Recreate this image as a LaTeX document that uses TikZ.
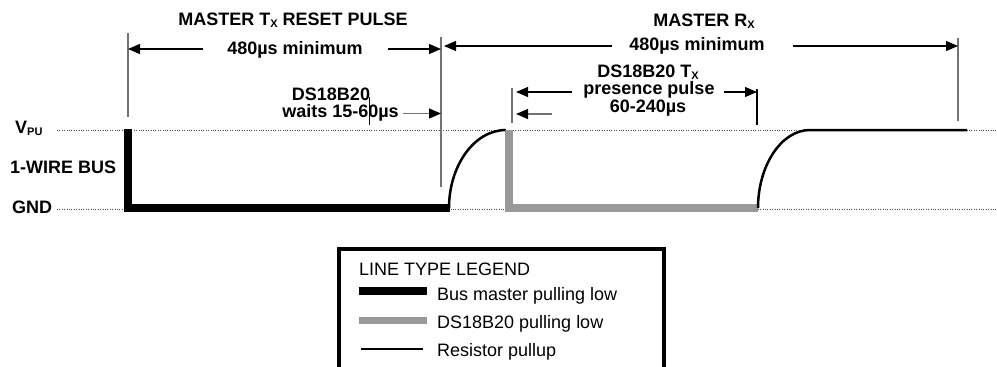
\documentclass[tikz,border=0pt]{standalone}
\usepackage{fontspec}
\setmainfont{Liberation Sans}
\usetikzlibrary{arrows.meta}
\definecolor{slavegray}{RGB}{153,153,153}
\definecolor{markgray}{RGB}{115,115,115}
\definecolor{levelgray}{RGB}{80,80,80}
\newcommand{\lowtext}[1]{\raisebox{-2pt}{\fontsize{11}{12}\selectfont #1}}
\tikzset{
  masterlow/.style={black,line width=8pt},
  slavelow/.style={slavegray,line width=8pt},
  pullup/.style={black,line width=2.5pt},
  levelline/.style={levelgray,line width=0.8pt,dash pattern=on 0.9pt off 1.5pt},
  markline/.style={markgray,line width=1.4pt},
  dimarrow/.style={-{Triangle[length=12pt,width=10pt,color=black]},line width=1.1pt},
  lbl/.style={inner sep=0pt,anchor=base,font=\bfseries\fontsize{18}{20}\selectfont},
  legtext/.style={inner sep=0pt,anchor=base west,font=\fontsize{18}{20}\selectfont},
}

\begin{document}
\begin{tikzpicture}[x=1pt,y=-1pt]
  \useasboundingbox (0,0) rectangle (997,367);
  % bus levels
  \node[lbl,anchor=base west] (vpu) at (15,133) {V\lowtext{PU}};
  \node[lbl,anchor=base west] (bus) at (10,173) {1-WIRE BUS};
  \node[lbl,anchor=base west] (gnd) at (12,213) {GND};
  \coordinate (vpuL) at (57,130);
  \coordinate (gndL) at (57,209);
  \draw[levelline] (vpuL) -- (vpuL -| 997,0);
  \draw[levelline] (gndL) -- (gndL -| 997,0);

  % waveform
  \draw[masterlow] (128,129) -- (128,208) -- (450,208);
  \draw[pullup] (449,208) .. controls (449,166) and (474,130) .. (506,130);
  \draw[slavelow] (509,130) -- (509,208) -- (758,208);
  \draw[pullup] (758,208) .. controls (758,166) and (781,130) .. (810,130) -- (967,130);

  % timing markers
  \coordinate (mkStart) at (128,33);
  \coordinate (mkMid) at (441,37);
  \coordinate (mkPresA) at (512,88);
  \coordinate (mkPresB) at (757,89);
  \coordinate (mkEnd) at (958,38);
  \draw[markline] (mkStart) -- ++(0,84);
  \draw[markline] (mkMid) -- ++(0,150);
  \draw[markline] (mkPresA) -- ++(0,35);
  \draw[black,line width=1.2pt] (mkPresB) -- ++(0,36);
  \draw[markline] (mkEnd) -- ++(0,83);
  \draw[black,line width=0.8pt] (369,97) -- (369,125);

  % labels
  \node[lbl] (txhead) at (293,25.5) {MASTER T\lowtext{X} RESET PULSE};
  \node[lbl] (txmin) at (295,54) {480µs minimum};
  \node[lbl] (rxhead) at (704,26.5) {MASTER R\lowtext{X}};
  \node[lbl] (rxmin) at (697,50.5) {480µs minimum};
  \node[lbl] (waitA) at (331,100) {DS18B20};
  \node[lbl] (waitB) at (340.5,117) {waits 15-60µs};
  \node[lbl] (presA) at (648,77) {DS18B20 T\lowtext{X}};
  \node[lbl] (presB) at (649,94.5) {presence pulse};
  \node[lbl] (presC) at (648,112.5) {60-240µs};

  % dimension arrows
  \coordinate (txL) at (203,49);
  \coordinate (txR) at (388,49);
  \coordinate (rxL) at (612,46);
  \coordinate (rxR) at (793,46);
  \coordinate (waitT) at (403,113.5);
  \coordinate (presL) at (572,92);
  \coordinate (presR) at (724,92);
  \coordinate (presLow) at (552,114);
  \draw[dimarrow] (txL) -- (txL -| mkStart);
  \draw[dimarrow] (txR) -- (txR -| mkMid);
  \draw[dimarrow] (rxL) -- ([xshift=3pt]rxL -| mkMid);
  \draw[dimarrow] (rxR) -- (rxR -| mkEnd);
  \draw[dimarrow,draw=markgray] (waitT) -- (waitT -| mkMid);
  \draw[dimarrow] (presL) -- ([xshift=4pt]presL -| mkPresA);
  \draw[dimarrow] (presR) -- (presR -| mkPresB);
  \draw[dimarrow,draw=markgray] (presLow) -- ([xshift=4pt]presLow -| mkPresA);

  % legend
  \draw[line width=3.5pt] (339,372) -- (339,249) -- (664,249) -- (664,372);
  \node[legtext] (legtitle) at (359,275) {LINE TYPE LEGEND};
  \draw[masterlow] (359,291) -- (427,291);
  \node[legtext] (legmaster) at (437,300) {Bus master pulling low};
  \draw[slavelow,line width=7pt] (359,320) -- (427,320);
  \node[legtext] (legslave) at (437,328) {DS18B20 pulling low};
  \draw[pullup,line width=2pt] (361,348.5) -- (423,348.5);
  \node[legtext] (legpull) at (437,356.5) {Resistor pullup};
\end{tikzpicture}
\end{document}
